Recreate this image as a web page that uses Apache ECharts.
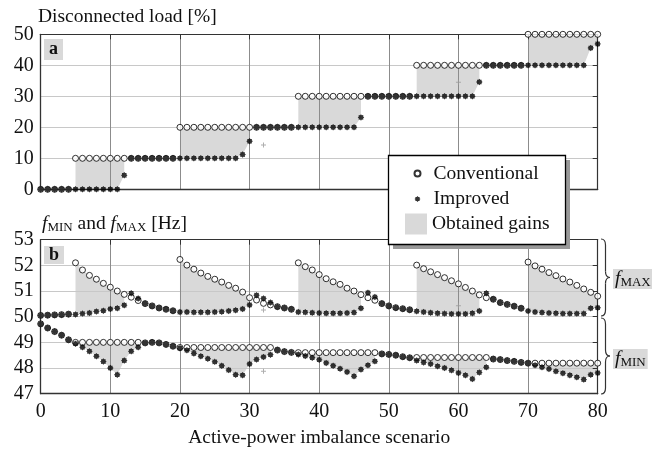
<!DOCTYPE html>
<html><head><meta charset="utf-8">
<script src="https://cdn.jsdelivr.net/npm/echarts@6/dist/echarts.min.js"></script>
<style>html,body{margin:0;padding:0;background:#fff}#c{width:652px;height:451px}</style>
</head><body><div id="c"></div>
<script>
// ---------- data ----------
const scenarios = Array.from({length: 81}, (_, i) => String(i));
const xTickLabels = ['0','10','20','30','40','50','60','70','80'];

// Panel a: disconnected load [%]
const conLoad = [0,0,0,0,0,
  10,10,10,10,10,10,10,10,10,10,10,10,10,10,10,
  20,20,20,20,20,20,20,20,20,20,20,20,20,20,20,20,20,
  30,30,30,30,30,30,30,30,30,30,30,30,30,30,30,30,30,
  40,40,40,40,40,40,40,40,40,40,40,40,40,40,40,40,
  50,50,50,50,50,50,50,50,50,50,50];
const impLoad = [0,0,0,0,0,0,0,0,0,0,0,0, 4.5,
  10,10,10,10,10,10,10,10,10,10,10,10,10,10,10,10, 11.2, 15.5,
  20,20,20,20,20,20,20,20,20,20,20,20,20,20,20, 23.2,
  30,30,30,30,30,30,30,30,30,30,30,30,30,30,30,30, 34.6,
  40,40,40,40,40,40,40,40,40,40,40,40,40,40,40, 45.6, 46.9];

// Panel b: fMAX [Hz]
const conMax = [50.05,50.06,50.07,50.08,50.10,
  52.10,51.82,51.61,51.46,51.30,51.15,51.00,50.87,
  50.76,50.63,
  50.51,50.42,50.34,50.29,50.23,
  52.23,52.01,51.85,51.70,51.57,51.46,51.35,51.22,51.11,50.96,50.74,
  50.65,50.52,50.46,
  50.39,50.34,50.29,
  52.10,51.95,51.82,51.64,51.48,51.36,51.26,51.11,51.00,50.86,
  50.74,50.64,
  50.51,50.42,50.35,50.31,50.27,
  52.01,51.87,51.75,51.64,51.52,51.40,51.28,51.14,51.00,50.85,
  50.74,
  50.68,50.55,50.48,50.41,50.33,
  52.13,51.98,51.85,51.72,51.60,51.47,51.35,51.22,51.08,50.95,50.80];
const impMax = [50.05,50.06,50.07,50.08,50.10,
  50.09,50.12,50.14,50.20,50.23,50.30,50.33,50.45,
  50.91,50.71,
  50.51,50.42,50.34,50.29,50.23,
  50.18,50.18,50.17,50.17,50.17,50.18,50.19,50.22,50.25,50.30,50.46,
  50.84,50.71,50.55,
  50.39,50.34,50.29,
  50.18,50.17,50.15,50.14,50.13,50.13,50.13,50.14,50.16,50.33,
  50.93,50.77,
  50.51,50.42,50.35,50.31,50.27,
  50.21,50.18,50.15,50.13,50.12,50.11,50.11,50.11,50.13,50.22,
  50.91,
  50.68,50.55,50.48,50.41,50.33,
  50.22,50.18,50.16,50.14,50.13,50.12,50.12,50.12,50.12,50.33,50.35];

// Panel b: fMIN [Hz]
const conMin = [49.72,49.56,49.42,49.28,49.10,
  49.00,49.00,49.00,49.00,49.00,49.00,49.00,49.00,49.00,49.00,
  48.98,49.00,48.98,48.92,48.85,
  48.80,48.80,48.80,48.80,48.80,48.80,48.80,48.80,48.80,48.80,48.80,48.80,48.80,48.80,
  48.70,48.64,48.61,
  48.60,48.60,48.60,48.60,48.60,48.60,48.60,48.60,48.60,48.60,48.60,48.60,
  48.55,48.53,48.50,48.44,48.40,
  48.41,48.41,48.41,48.41,48.41,48.41,48.41,48.41,48.41,48.41,48.41,
  48.35,48.33,48.29,48.26,48.22,
  48.19,48.19,48.19,48.19,48.19,48.19,48.19,48.19,48.19,48.19,48.19];
const impMin = [49.72,49.56,49.42,49.28,49.10,
  48.95,48.81,48.65,48.46,48.25,48.00,47.74,48.29,48.65,48.81,
  48.98,49.00,48.98,48.92,48.85,
  48.77,48.69,48.57,48.46,48.36,48.24,48.09,47.92,47.74,47.72,48.16,48.33,48.43,48.52,
  48.70,48.64,48.61,
  48.53,48.47,48.40,48.32,48.20,48.09,47.97,47.85,47.68,47.94,48.11,48.26,
  48.55,48.53,48.50,48.44,48.40,
  48.29,48.22,48.16,48.07,48.00,47.91,47.81,47.72,47.57,47.83,48.03,
  48.35,48.33,48.29,48.26,48.22,
  48.19,48.11,48.03,47.96,47.87,47.80,47.72,47.64,47.55,47.74,47.81];

// gain (shaded) scenario ranges
const loadGainRanges = [[5,12],[20,30],[37,46],[54,63],[70,80]];
const fMaxGainRanges = [[5,12],[20,30],[37,46],[54,63],[70,80]];
const fMinGainRanges = [[5,14],[20,33],[37,48],[54,64],[70,80]];

// isolated grey "+" marks
const extraLoad = [[32, 14.3], [60, 34.5]];
const extraFreq = [[32, 50.26], [32, 47.87], [60, 50.43]];

// ---------- styling ----------
const FONT = 'Liberation Serif';
const G = '#d9d9d9';
const TXT = '#111';
const STAR = 'path://M20 10L16.9 12.87L17.07 17.07L12.87 16.9L10 20L7.13 16.9L2.93 17.07L3.1 12.87L0 10L3.1 7.13L2.93 2.93L7.13 3.1L10 0L12.87 3.1L17.07 2.93L16.9 7.13Z';
const PLUS = 'path://M4 0h2v4h4v2H6v4H4V6H0V4h4z';

function gainSeries(con, imp, ranges, xi, yi, stack) {
  const base = con.map(() => '-'), diff = con.map(() => '-');
  ranges.forEach(([a, b]) => { for (let i = a; i <= b; i++) { base[i] = imp[i]; diff[i] = +(con[i] - imp[i]).toFixed(3); } });
  const common = {type: 'line', xAxisIndex: xi, yAxisIndex: yi, stack: stack, stackStrategy: 'all',
    symbol: 'none', showSymbol: false, silent: true, z: 0, connectNulls: false,
    lineStyle: {opacity: 0, width: 0}};
  return [
    Object.assign({name: 'gainBase', data: base}, common),
    Object.assign({name: 'Obtained gains', data: diff, color: G, areaStyle: {color: G, opacity: 1}}, common)
  ];
}
function conv(data, xi, yi) {
  return {type: 'scatter', name: 'Conventional', xAxisIndex: xi, yAxisIndex: yi, data: data,
    symbol: 'circle', symbolSize: 6, z: 3, silent: true,
    itemStyle: {color: '#fff', borderColor: '#000', borderWidth: 1}};
}
function impr(data, xi, yi) {
  return {type: 'scatter', name: 'Improved', xAxisIndex: xi, yAxisIndex: yi, data: data,
    symbol: STAR, symbolSize: 6.5, z: 4, silent: true, itemStyle: {color: '#000'}};
}
function extra(data, xi, yi) {
  return {type: 'scatter', name: 'extra', xAxisIndex: xi, yAxisIndex: yi, data: data,
    symbol: PLUS, symbolSize: 5, z: 3, silent: true, itemStyle: {color: '#9a9a9a'}};
}
function bottomX(gi, showLabels, name) {
  return {type: 'category', gridIndex: gi, data: scenarios, boundaryGap: false, z: 1,
    axisLine: {show: true, onZero: false, lineStyle: {color: '#333', width: 1.3}},
    axisTick: {show: false},
    axisLabel: {show: showLabels, interval: 9, fontFamily: FONT, fontSize: 20, color: TXT, margin: 8,
      formatter: v => xTickLabels.includes(v) ? v : ''},
    splitLine: {show: true, interval: 9, lineStyle: {color: '#8c8c8c', width: 1}},
    name: name || '', nameLocation: 'middle', nameGap: 34,
    nameTextStyle: {fontFamily: FONT, fontSize: 19.5, color: TXT}};
}
function topX(gi) {
  return {type: 'category', gridIndex: gi, position: 'top', data: scenarios, boundaryGap: false, z: 1,
    axisLine: {show: true, onZero: false, lineStyle: {color: '#333', width: 1.2}},
    axisTick: {show: true, inside: true, interval: 9, length: 5, lineStyle: {color: '#333'}},
    axisLabel: {show: false}, splitLine: {show: false}};
}
function leftY(gi, min, max, iv) {
  return {type: 'value', gridIndex: gi, min: min, max: max, interval: iv, z: 1,
    axisLine: {show: true, onZero: false, lineStyle: {color: '#333', width: 1.3}},
    axisTick: {show: false},
    axisLabel: {fontFamily: FONT, fontSize: 20, color: TXT, margin: 7},
    splitLine: {show: true, lineStyle: {color: '#c8c8c8', width: 1.2}}};
}
function rightY(gi, min, max, iv) {
  return {type: 'value', gridIndex: gi, position: 'right', min: min, max: max, interval: iv, z: 1,
    axisLine: {show: true, onZero: false, lineStyle: {color: '#333', width: 1.2}},
    axisTick: {show: true, inside: true, length: 5, lineStyle: {color: '#333'}},
    axisLabel: {show: false}, splitLine: {show: false}};
}
function brace(x0, y0, y1) {
  const xs = x0 + 4.5, xt = x0 + 9, ym = (y0 + y1) / 2, r = 6;
  const st = {stroke: '#333', lineWidth: 1.2, fill: null};
  return [
    {type: 'bezierCurve', shape: {x1: x0, y1: y0, cpx1: xs, cpy1: y0, x2: xs, y2: y0 + r}, style: st},
    {type: 'line', shape: {x1: xs, y1: y0 + r, x2: xs, y2: ym - r}, style: st},
    {type: 'bezierCurve', shape: {x1: xs, y1: ym - r, cpx1: xs, cpy1: ym, x2: xt, y2: ym}, style: st},
    {type: 'bezierCurve', shape: {x1: xt, y1: ym, cpx1: xs, cpy1: ym, x2: xs, y2: ym + r}, style: st},
    {type: 'line', shape: {x1: xs, y1: ym + r, x2: xs, y2: y1 - r}, style: st},
    {type: 'bezierCurve', shape: {x1: xs, y1: y1 - r, cpx1: xs, cpy1: y1, x2: x0, y2: y1}, style: st}
  ];
}
const richF = {
  i: {fontFamily: FONT, fontStyle: 'italic', fontWeight: 'normal', fontSize: 19.5, color: TXT, lineHeight: 22, verticalAlign: 'bottom'},
  s: {fontFamily: FONT, fontWeight: 'normal', fontSize: 13, color: TXT, lineHeight: 16, verticalAlign: 'bottom'},
  n: {fontFamily: FONT, fontWeight: 'normal', fontSize: 19.5, color: TXT, lineHeight: 22, verticalAlign: 'bottom'}
};

const chart = echarts.init(document.getElementById('c'), null, {renderer: 'canvas'});
chart.setOption({
  animation: false,
  backgroundColor: '#fff',
  textStyle: {fontFamily: FONT},
  title: [
    {text: 'Disconnected load [%]', left: 38, top: 7, padding: 0,
      textStyle: {fontFamily: FONT, fontSize: 19.5, fontWeight: 'normal', color: TXT}},
    {text: '{i|f}{s|MIN}{n| and }{i|f}{s|MAX}{n| [Hz]}', left: 42, top: 212, padding: 0,
      textStyle: {fontWeight: 'normal', rich: richF}},
    {text: 'a', left: 44, top: 39, padding: [1, 5, 2, 5], backgroundColor: G,
      textStyle: {fontFamily: FONT, fontSize: 18, fontWeight: 'bold', color: TXT}},
    {text: 'b', left: 44, top: 246, padding: [0, 5, 0, 5], backgroundColor: G,
      textStyle: {fontFamily: FONT, fontSize: 18, fontWeight: 'bold', color: TXT}},
    {text: '{i|f}{s|MAX}', left: 613, top: 267, padding: [0, 2, 0, 2], backgroundColor: G,
      textStyle: {fontWeight: 'normal', rich: richF}},
    {text: '{i|f}{s|MIN}', left: 613, top: 347, padding: [0, 2, 0, 2], backgroundColor: G,
      textStyle: {fontWeight: 'normal', rich: richF}}
  ],
  grid: [
    {left: 40.7, top: 34.3, width: 557, height: 155},
    {left: 40.7, top: 239.7, width: 557, height: 154}
  ],
  xAxis: [bottomX(0, false), bottomX(1, true, 'Active-power imbalance scenario'), topX(0), topX(1)],
  yAxis: [leftY(0, 0, 50, 10), leftY(1, 47, 53, 1), rightY(0, 0, 50, 10), rightY(1, 47, 53, 1)],
  legend: [
    {data: ['Conventional', 'Improved'], orient: 'vertical', left: 413.5, top: 162.5, padding: 0,
      itemWidth: 6, itemHeight: 6, itemGap: 3.5, selectedMode: false, z: 20,
      textStyle: {fontFamily: FONT, fontSize: 19.5, color: TXT, lineHeight: 22, padding: [0, 0, 0, 8]}},
    {data: [{name: 'Obtained gains', icon: 'rect'}], left: 405, top: 213, padding: 0,
      itemWidth: 22, itemHeight: 21, selectedMode: false, z: 20,
      itemStyle: {color: G, borderWidth: 0, opacity: 1},
      textStyle: {fontFamily: FONT, fontSize: 19.5, color: TXT, lineHeight: 22}}
  ],
  graphic: [
    {type: 'rect', z: 9, shape: {x: 393, y: 160, width: 177, height: 89}, style: {fill: '#999'}},
    {type: 'rect', z: 10, shape: {x: 388.5, y: 155.5, width: 177, height: 89}, style: {fill: '#fff', stroke: '#000', lineWidth: 1.3}},
    {type: 'group', z: 5, children: brace(601, 239, 316).concat(brace(601, 318, 394))}
  ],
  series: [].concat(
    gainSeries(conLoad, impLoad, loadGainRanges, 0, 0, 'g0'),
    gainSeries(conMax, impMax, fMaxGainRanges, 1, 1, 'g1'),
    gainSeries(conMin, impMin, fMinGainRanges, 1, 1, 'g2'),
    [conv(conLoad, 0, 0), impr(impLoad, 0, 0), extra(extraLoad, 0, 0),
     conv(conMax, 1, 1), impr(impMax, 1, 1), conv(conMin, 1, 1), impr(impMin, 1, 1), extra(extraFreq, 1, 1)]
  )
});
</script></body></html>
